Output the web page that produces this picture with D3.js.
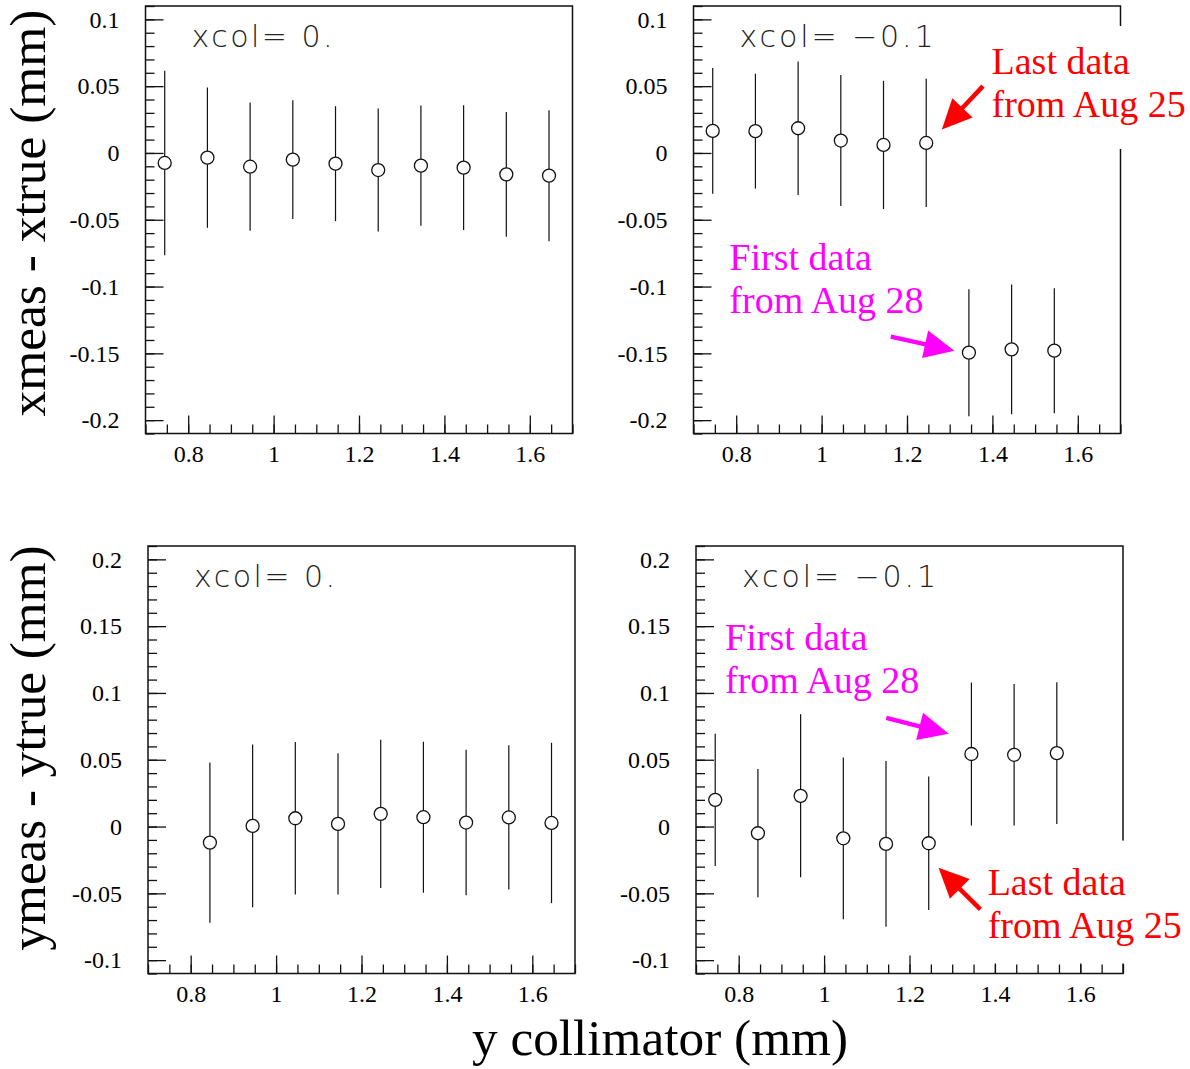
<!DOCTYPE html>
<html>
<head>
<meta charset="utf-8">
<script src="https://cdn.jsdelivr.net/npm/d3@7"></script>
<style>
  body { margin: 0; background: #fff; }
  svg { display: block; }
</style>
</head>
<body>
<div id="chart"></div>
<script>
// y collimator positions (mm) and measured residuals with errors
const topLeftX = [0.745, 0.845, 0.945, 1.045, 1.145, 1.245, 1.345, 1.445, 1.545, 1.645];
const topLeftY = [-0.0075, -0.0035, -0.0103, -0.005, -0.008, -0.0128, -0.0095, -0.011, -0.016, -0.017];
const topLeftErr = [0.069, 0.0525, 0.048, 0.0445, 0.043, 0.046, 0.045, 0.0467, 0.0467, 0.049];

const topRightX = [0.745, 0.845, 0.945, 1.045, 1.145, 1.245, 1.345, 1.445, 1.545];
const topRightY = [0.0165, 0.0163, 0.0185, 0.0093, 0.006, 0.0075, -0.1495, -0.147, -0.148];
const topRightErr = [0.047, 0.043, 0.050, 0.049, 0.048, 0.048, 0.0475, 0.0485, 0.0468];

const bottomLeftX = [0.845, 0.945, 1.045, 1.145, 1.245, 1.345, 1.445, 1.545, 1.645];
const bottomLeftY = [-0.012, 0.0005, 0.0062, 0.002, 0.0095, 0.007, 0.003, 0.0068, 0.0027];
const bottomLeftErr = [0.06, 0.061, 0.057, 0.0528, 0.0555, 0.0565, 0.0545, 0.054, 0.06];

const bottomRightX = [0.745, 0.845, 0.945, 1.045, 1.145, 1.245, 1.345, 1.445, 1.545];
const bottomRightY = [0.02, -0.005, 0.023, -0.0088, -0.013, -0.0125, 0.0543, 0.0537, 0.055];
const bottomRightErr = [0.0495, 0.048, 0.061, 0.0605, 0.062, 0.05, 0.0535, 0.053, 0.053];

const xMajorTicks = [0.8, 1, 1.2, 1.4, 1.6];
const yTopMajorTicks = [-0.2, -0.15, -0.1, -0.05, 0, 0.05, 0.1];
const yBottomMajorTicks = [-0.1, -0.05, 0, 0.05, 0.1, 0.15, 0.2];

const W = 1190, H = 1069;
const serif = "'Liberation Serif', 'Times New Roman', Times, serif";

const svg = d3.select('#chart').append('svg')
  .attr('width', W).attr('height', H);

const fmt = d => String(+(+d).toFixed(2));

function drawPanel(o) {
  const x = d3.scaleLinear().domain([0.7, 1.7]).range([o.left, o.left + 427]);
  const y = d3.scaleLinear().domain(o.yDomain).range([o.top + 427.5, o.top]);
  const g = svg.append('g');

  // minor ticks
  g.append('g')
    .attr('transform', `translate(${o.left},0)`)
    .call(d3.axisLeft(y).tickValues(d3.range(Math.round(o.yDomain[0] * 100), Math.round(o.yDomain[1] * 100) + 1).map(v => v / 100))
      .tickSizeInner(-9).tickSizeOuter(0).tickFormat(''))
    .call(a => a.select('.domain').remove());
  g.append('g')
    .attr('transform', `translate(0,${o.top + 427.5})`)
    .call(d3.axisBottom(x).tickValues(d3.range(14, 35).map(v => v / 20))
      .tickSizeInner(-9).tickSizeOuter(0).tickFormat(''))
    .call(a => a.select('.domain').remove());

  // major ticks + labels
  g.append('g')
    .attr('transform', `translate(${o.left},0)`)
    .call(d3.axisLeft(y).tickValues(o.yTicks).tickSizeInner(-18).tickSizeOuter(0)
      .tickPadding(26).tickFormat(fmt))
    .call(a => a.select('.domain').remove())
    .call(a => a.selectAll('text').attr('font-family', serif).attr('font-size', 24).attr('fill', '#000'));
  g.append('g')
    .attr('transform', `translate(0,${o.top + 427.5})`)
    .call(d3.axisBottom(x).tickValues(xMajorTicks).tickSizeInner(-18).tickSizeOuter(0)
      .tickPadding(11).tickFormat(fmt))
    .call(a => a.select('.domain').remove())
    .call(a => a.selectAll('text').attr('font-family', serif).attr('font-size', 24).attr('fill', '#000'));
  g.selectAll('.tick line').attr('stroke', '#111').attr('stroke-width', 1.3);

  // frame
  g.append('rect')
    .attr('x', o.left).attr('y', o.top)
    .attr('width', 427).attr('height', 427.5)
    .attr('fill', 'none').attr('stroke', '#111').attr('stroke-width', 1.5);

  // label
  g.append('text')
    .attr('x', o.left + 46).attr('y', o.top + 41)
    .attr('font-family', "'DejaVu Sans', sans-serif")
    .attr('font-weight', 200)
    .attr('font-size', 30)
    .attr('fill', '#222')
    .attr('textLength', o.labelLen).attr('lengthAdjust', 'spacing')
    .text(o.label);

  const pts = o.xs.map((v, i) => ({ x: v, y: o.ys[i], e: o.errs[i] }));
  g.selectAll('line.err').data(pts).enter().append('line')
    .attr('class', 'err')
    .attr('x1', d => x(d.x)).attr('x2', d => x(d.x))
    .attr('y1', d => y(d.y - d.e)).attr('y2', d => y(d.y + d.e))
    .attr('stroke', '#111').attr('stroke-width', 1.2);
  g.selectAll('circle').data(pts).enter().append('circle')
    .attr('cx', d => x(d.x)).attr('cy', d => y(d.y)).attr('r', 6.5)
    .attr('fill', '#fff').attr('stroke', '#111').attr('stroke-width', 1.3);

  return { g, x, y };
}

function arrow(g, x1, y1, x2, y2, color) {
  const dx = x2 - x1, dy = y2 - y1, len = Math.hypot(dx, dy);
  const ux = dx / len, uy = dy / len;
  const hl = 30, hw = 14;
  const bx = x2 - ux * hl, by = y2 - uy * hl;
  g.append('line')
    .attr('x1', x1).attr('y1', y1).attr('x2', bx + ux * 4).attr('y2', by + uy * 4)
    .attr('stroke', color).attr('stroke-width', 4.5);
  g.append('path')
    .attr('d', `M${x2},${y2}L${bx - uy * hw},${by + ux * hw}L${bx + uy * hw},${by - ux * hw}Z`)
    .attr('fill', color);
}

function note(g, xPx, yPx, lines, color) {
  const t = g.append('text')
    .attr('font-family', serif).attr('font-size', 38).attr('fill', color);
  lines.forEach((s, i) => t.append('tspan').attr('x', xPx).attr('y', yPx + i * 43).text(s));
}

// Top-left
drawPanel({ left: 145.5, top: 6, yDomain: [-0.21, 0.11], yTicks: yTopMajorTicks,
  xs: topLeftX, ys: topLeftY, errs: topLeftErr, label: 'xcol= 0.', labelLen: 141 });

// Top-right
const p2 = drawPanel({ left: 693.5, top: 6, yDomain: [-0.21, 0.11], yTicks: yTopMajorTicks,
  xs: topRightX, ys: topRightY, errs: topRightErr, label: 'xcol= \u22120.1', labelLen: 194 });
p2.g.append('rect').attr('x', p2.x(1.365)).attr('y', p2.y(0.095)).attr('width', 210)
  .attr('height', p2.y(0.003) - p2.y(0.095)).attr('fill', '#fff');
note(p2.g, p2.x(1.398), p2.y(0.0588), ['Last data', 'from Aug 25'], '#ff0000');
arrow(p2.g, p2.x(1.378), p2.y(0.050), p2.x(1.2816), p2.y(0.0175), '#ff0000');
note(p2.g, p2.x(0.784), p2.y(-0.0875), ['First data', 'from Aug 28'], '#ff00ff');
arrow(p2.g, p2.x(1.162), p2.y(-0.1375), p2.x(1.311), p2.y(-0.148), '#ff00ff');

// Bottom-left
drawPanel({ left: 148, top: 546, yDomain: [-0.11, 0.21], yTicks: yBottomMajorTicks,
  xs: bottomLeftX, ys: bottomLeftY, errs: bottomLeftErr, label: 'xcol= 0.', labelLen: 141 });

// Bottom-right
const p4 = drawPanel({ left: 696, top: 546, yDomain: [-0.11, 0.21], yTicks: yBottomMajorTicks,
  xs: bottomRightX, ys: bottomRightY, errs: bottomRightErr, label: 'xcol= \u22120.1', labelLen: 194 });
note(p4.g, p4.x(0.768), p4.y(0.132), ['First data', 'from Aug 28'], '#ff00ff');
arrow(p4.g, p4.x(1.1456), p4.y(0.0813), p4.x(1.2918), p4.y(0.0695), '#ff00ff');
p4.g.append('rect').attr('x', p4.x(1.37)).attr('y', p4.y(-0.0105)).attr('width', 210)
  .attr('height', p4.y(-0.1025) - p4.y(-0.0105)).attr('fill', '#fff');
note(p4.g, p4.x(1.383), p4.y(-0.0513), ['Last data', 'from Aug 25'], '#ff0000');
arrow(p4.g, p4.x(1.366), p4.y(-0.062), p4.x(1.268), p4.y(-0.0308), '#ff0000');

// axis titles
svg.append('text')
  .attr('transform', 'translate(45,213) rotate(-90)')
  .attr('text-anchor', 'middle')
  .attr('font-family', serif).attr('font-size', 50)
  .attr('textLength', 407).attr('lengthAdjust', 'spacingAndGlyphs')
  .text('xmeas - xtrue (mm)');
svg.append('text')
  .attr('transform', 'translate(45,748) rotate(-90)')
  .attr('text-anchor', 'middle')
  .attr('font-family', serif).attr('font-size', 50)
  .attr('textLength', 405).attr('lengthAdjust', 'spacingAndGlyphs')
  .text('ymeas - ytrue (mm)');
svg.append('text')
  .attr('x', 660).attr('y', 1055)
  .attr('text-anchor', 'middle')
  .attr('font-family', serif).attr('font-size', 50)
  .attr('textLength', 376).attr('lengthAdjust', 'spacingAndGlyphs')
  .text('y collimator (mm)');
</script>
</body>
</html>
